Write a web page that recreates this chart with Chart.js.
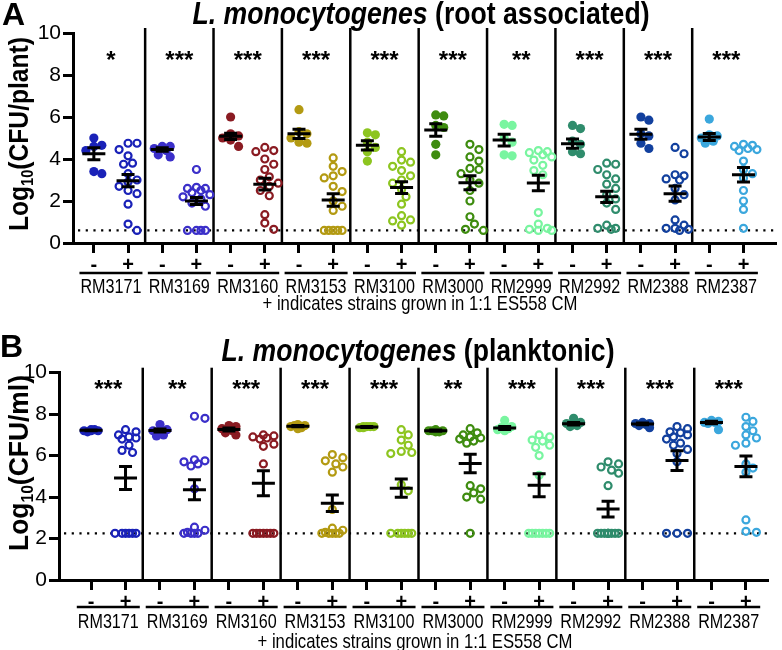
<!DOCTYPE html>
<html>
<head>
<meta charset="utf-8">
<script src="https://cdn.jsdelivr.net/npm/chart.js@4.4.0/dist/chart.umd.min.js"></script>
<style>
  body { margin: 0; background: #fff; width: 782px; height: 650px; overflow: hidden; position: relative; }
  #boxA { position: absolute; left: 0; top: 0; }
  #boxB { position: absolute; left: 0; top: 320px; }
</style>
</head>
<body>
<div id="boxA"><canvas id="chartA" width="782" height="320"></canvas></div>
<div id="boxB"><canvas id="chartB" width="782" height="330"></canvas></div>
<script>
// Cepas y colores
const cepas = ['RM3171', 'RM3169', 'RM3160', 'RM3153', 'RM3100', 'RM3000', 'RM2999', 'RM2992', 'RM2388', 'RM2387'];
const colores = ['#1a22b8', '#3b2fc9', '#8a1b22', '#b39a12', '#8dc520', '#3e8c0f', '#79f5a0', '#2f8c6c', '#12409e', '#3ba7dd'];
const yTicks = [0, 2, 4, 6, 8, 10];

// Panel A: asociado a raiz, Log10(CFU/planta)
const raizMenos = [
  [5.0, 4.6, 4.65, 4.4, 3.4, 3.3],
  [4.6, 4.6, 4.5, 4.4, 4.2, 4.1],
  [6.0, 5.2, 5.1, 5.0, 4.9, 4.6],
  [6.35, 5.3, 5.2, 5.0, 4.8, 4.75],
  [5.25, 5.15, 4.8, 4.55, 4.35, 3.9],
  [6.1, 6.05, 5.6, 5.5, 4.7, 4.2],
  [5.65, 5.6, 5.0, 4.8, 4.2, 4.15],
  [5.6, 5.45, 4.85, 4.7, 4.35, 4.25],
  [6.0, 5.85, 5.2, 5.1, 4.75, 4.5],
  [5.9, 5.15, 5.1, 5.0, 4.85, 4.75]
];
const raizMas = [
  [4.75, 4.75, 4.45, 4.15, 3.8, 3.75, 3.3, 3.0, 2.9, 2.7, 2.5, 2.35, 1.85, 0.9, 0.6],
  [3.5, 2.65, 2.6, 2.6, 2.5, 2.4, 2.3, 2.2, 2.1, 1.9, 1.75, 0.6, 0.6, 0.6, 0.6],
  [4.55, 4.4, 4.35, 4.0, 3.75, 3.5, 3.15, 3.0, 2.85, 2.7, 2.5, 2.25, 1.35, 0.95, 0.65],
  [4.05, 3.65, 3.4, 3.2, 3.1, 2.7, 2.45, 2.0, 1.75, 1.55, 0.6, 0.6, 0.6, 0.6, 0.6],
  [4.35, 3.95, 3.85, 3.65, 3.45, 3.2, 3.0, 2.85, 2.55, 2.2, 1.85, 1.3, 1.1, 1.05, 0.85],
  [4.7, 4.45, 4.1, 3.9, 3.55, 3.5, 3.3, 3.0, 2.85, 2.5, 2.0, 1.25, 0.9, 0.65, 0.6],
  [4.4, 4.35, 4.3, 4.2, 4.1, 3.95, 3.7, 3.45, 3.25, 1.45, 0.9, 0.7, 0.65, 0.6, 0.6],
  [3.8, 3.75, 3.5, 3.25, 3.05, 2.8, 2.6, 2.3, 2.1, 1.9, 1.6, 0.85, 0.7, 0.7, 0.65],
  [4.55, 4.25, 3.25, 3.2, 3.05, 3.0, 2.6, 2.3, 2.05, 1.1, 0.85, 0.7, 0.7, 0.65, 0.6],
  [4.7, 4.65, 4.6, 4.5, 4.45, 4.4, 3.9, 3.5, 3.3, 3.1, 2.5, 2.0, 1.6, 0.7]
];
const raizMedia = [4.25, 2.97, 4.45, 2.0, 5.08, 2.8, 5.2, 2.05, 4.65, 2.64, 5.38, 2.87, 4.9, 2.86, 4.73, 2.2, 5.18, 2.35, 5.05, 3.25];
const raizSem = [0.28, 0.29, 0.08, 0.17, 0.15, 0.28, 0.22, 0.3, 0.22, 0.28, 0.3, 0.33, 0.28, 0.37, 0.22, 0.27, 0.24, 0.36, 0.17, 0.35];
const raizEstrellas = ['*', '***', '***', '***', '***', '***', '**', '***', '***', '***'];

// Panel B: planctonico, Log10(CFU/ml)
const planMenos = [
  [7.25, 7.2, 7.2, 7.25, 7.15, 7.2],
  [7.5, 7.25, 7.2, 7.2, 7.0, 6.95],
  [7.45, 7.4, 7.3, 7.2, 7.1, 7.0],
  [7.5, 7.45, 7.4, 7.45, 7.35, 7.3],
  [7.4, 7.4, 7.35, 7.4, 7.35, 7.4],
  [7.25, 7.2, 7.2, 7.15, 7.2, 7.15],
  [7.7, 7.4, 7.35, 7.3, 7.25, 7.2],
  [7.8, 7.6, 7.55, 7.5, 7.45, 7.4],
  [7.6, 7.55, 7.55, 7.5, 7.45, 7.35],
  [7.7, 7.65, 7.6, 7.6, 7.55, 7.25]
];
const planMas = [
  [7.25, 7.15, 7.0, 6.9, 6.85, 6.8, 6.5, 6.25, 6.15, 2.25, 2.25, 2.25, 2.25, 2.25, 2.25],
  [7.9, 7.8, 5.8, 5.75, 5.7, 5.6, 5.5, 4.4, 2.55, 2.4, 2.3, 2.25, 2.25, 2.25, 2.25],
  [7.0, 6.95, 6.9, 6.85, 6.8, 6.55, 6.45, 5.6, 2.25, 2.25, 2.25, 2.25, 2.25, 2.25, 2.25],
  [6.05, 5.9, 5.75, 5.6, 5.45, 5.2, 3.4, 2.5, 2.4, 2.3, 2.25, 2.25, 2.25, 2.25, 2.25],
  [7.25, 7.0, 6.75, 6.5, 6.2, 6.15, 6.1, 4.6, 4.3, 2.25, 2.25, 2.25, 2.25, 2.25, 2.25],
  [7.3, 7.1, 7.0, 6.9, 6.85, 6.8, 6.7, 6.6, 4.55, 4.4, 4.2, 4.0, 3.9, 2.25],
  [7.0, 6.9, 6.75, 6.7, 6.5, 6.4, 6.0, 5.05, 2.25, 2.25, 2.25, 2.25, 2.25, 2.25, 2.25],
  [5.7, 5.6, 5.45, 5.3, 5.15, 4.55, 2.25, 2.25, 2.25, 2.25, 2.25, 2.25, 2.25, 2.25, 2.25],
  [7.4, 7.3, 7.15, 7.1, 7.0, 6.9, 6.8, 6.6, 6.5, 6.3, 6.1, 5.7, 2.25, 2.25, 2.25],
  [7.85, 7.65, 7.4, 7.2, 7.0, 6.85, 6.6, 6.5, 5.6, 5.4, 5.2, 2.9, 2.35, 2.3]
];
const planMedia = [7.22, 4.92, 7.21, 4.35, 7.26, 4.67, 7.42, 3.7, 7.38, 4.43, 7.2, 5.62, 7.33, 4.57, 7.54, 3.42, 7.53, 5.76, 7.6, 5.48];
const planSem = [0.02, 0.55, 0.07, 0.48, 0.07, 0.6, 0.03, 0.4, 0.02, 0.44, 0.03, 0.45, 0.07, 0.55, 0.06, 0.38, 0.04, 0.48, 0.06, 0.5];
const planEstrellas = ['***', '**', '***', '***', '***', '**', '***', '***', '***', '***'];

const fuente = '"Liberation Sans", Arial, Helvetica, sans-serif';

// reparte los puntos en horizontal para que no se tapen (tipo beeswarm)
function enjambre(vals, pxX, pxY, paso, kMax, minD) {
  const candidatos = [0];
  for (let k = 1; k <= kMax; k++) candidatos.push(k, -k);
  const puestos = [];
  return vals.map(v => {
    let mejor = 0, mejorD = -1;
    for (const k of candidatos) {
      const dx = k * paso;
      let d = Infinity;
      puestos.forEach(p => { d = Math.min(d, Math.hypot(dx - p[0], (v - p[1]) * pxY)); });
      if (d >= minD) { mejor = dx; mejorD = d; break; }
      if (d > mejorD) { mejor = dx; mejorD = d; }
    }
    puestos.push([mejor, v]);
    return mejor / pxX;
  });
}

// texto ajustado a un ancho dado (la fuente original es algo estrecha)
function textoAjustado(ctx, partes, x, y, ancho, align) {
  let total = 0;
  partes.forEach(p => { ctx.font = p.font; p.w = ctx.measureText(p.t).width; total += p.w; });
  const esc = ancho / total;
  ctx.save();
  ctx.translate(align === 'center' ? x - ancho / 2 : x, y);
  ctx.scale(esc, 1);
  let cx = 0;
  partes.forEach(p => {
    ctx.font = p.font;
    ctx.textAlign = 'left';
    ctx.fillText(p.t, cx, p.dy || 0);
    cx += p.w;
  });
  ctx.restore();
}

function crearPanel(cfg) {
  const columnas = [];
  for (let i = 0; i < 20; i++) columnas.push(i);

  const datasets = [];
  for (let g = 0; g < cepas.length; g++) {
    [cfg.menos[g], cfg.mas[g]].forEach((vals, s) => {
      const col = 2 * g + s;
      const offs = s
        ? enjambre(vals, cfg.pxX, cfg.pxY, cfg.pasoMas, 3, 8)
        : enjambre(vals, cfg.pxX, cfg.pxY, cfg.pasoMenos, 2, 8);
      datasets.push({
        data: vals.map((v, i) => ({ x: col + offs[i], y: v })),
        pointRadius: s ? 3.5 : 4.6,
        pointBorderWidth: s ? 2.2 : 0,
        pointBackgroundColor: s ? 'rgba(255,255,255,0)' : colores[g],
        pointBorderColor: colores[g],
        pointHoverRadius: 0,
        showLine: false
      });
    });
  }

  const decoracion = {
    id: 'decoracion',
    beforeDatasetsDraw(chart) {
      const ctx = chart.ctx, a = chart.chartArea;
      const x = chart.scales.x, y = chart.scales.y;
      ctx.save();
      // linea de limite de deteccion
      ctx.strokeStyle = '#000';
      ctx.lineWidth = 2.4;
      ctx.setLineDash([2.2, 5.5]);
      ctx.beginPath();
      ctx.moveTo(a.left + 5, y.getPixelForValue(cfg.limite));
      ctx.lineTo(a.right, y.getPixelForValue(cfg.limite));
      ctx.stroke();
      ctx.setLineDash([]);
      // separadores entre cepas
      ctx.lineWidth = 2.5;
      for (let g = 0; g < cepas.length - 1; g++) {
        const px = x.getPixelForValue(2 * g + 1.5);
        ctx.beginPath();
        ctx.moveTo(px, a.top - 5);
        ctx.lineTo(px, a.bottom);
        ctx.stroke();
      }
      ctx.restore();
    },
    afterDatasetsDraw(chart) {
      const ctx = chart.ctx;
      const x = chart.scales.x, y = chart.scales.y;
      ctx.save();
      ctx.strokeStyle = '#000';
      ctx.lineWidth = 3;
      // media +- error estandar
      cfg.media.forEach((m, c) => {
        const px = x.getPixelForValue(c);
        const ym = y.getPixelForValue(m);
        const y1 = y.getPixelForValue(m + cfg.sem[c]);
        const y2 = y.getPixelForValue(m - cfg.sem[c]);
        ctx.beginPath();
        ctx.moveTo(px - 11.5, ym); ctx.lineTo(px + 11.5, ym);
        ctx.moveTo(px - 6.5, y1); ctx.lineTo(px + 6.5, y1);
        ctx.moveTo(px - 6.5, y2); ctx.lineTo(px + 6.5, y2);
        ctx.moveTo(px, y1); ctx.lineTo(px, y2);
        ctx.stroke();
      });
      // asteriscos
      ctx.fillStyle = '#000';
      ctx.font = 'bold 24px ' + fuente;
      ctx.textAlign = 'center';
      ctx.textBaseline = 'alphabetic';
      cfg.estrellas.forEach((e, g) => {
        ctx.fillText(e, x.getPixelForValue(2 * g + 0.5), y.getPixelForValue(cfg.nivelEstrellas));
      });
      ctx.restore();
    },
    afterDraw(chart) {
      const ctx = chart.ctx;
      const x = chart.scales.x;
      ctx.save();
      ctx.fillStyle = '#000';
      ctx.strokeStyle = '#000';
      ctx.textBaseline = 'alphabetic';
      // subrayado y nombre de cada cepa
      ctx.lineWidth = 2.5;
      const fNombre = '21px ' + fuente;
      ctx.font = fNombre;
      const escNombre = 61 / ctx.measureText('RM3171').width;
      cepas.forEach((c, g) => {
        const px = x.getPixelForValue(2 * g + 0.5);
        ctx.beginPath();
        ctx.moveTo(px - 31.5, cfg.yRaya);
        ctx.lineTo(px + 31.5, cfg.yRaya);
        ctx.stroke();
        ctx.font = fNombre;
        const w = ctx.measureText(c).width * escNombre;
        textoAjustado(ctx, [{ t: c, font: fNombre }], px, cfg.yNombre, w, 'center');
      });
      // nota al pie
      textoAjustado(ctx, [{ t: '+ indicates strains grown in 1:1 ES558 CM', font: fNombre }],
        cfg.notaX, cfg.yNota, 315, 'center');
      // letra del panel
      ctx.font = 'bold 32px ' + fuente;
      ctx.textAlign = 'left';
      ctx.fillText(cfg.letra, cfg.letraX, cfg.letraY);
      // titulo
      textoAjustado(ctx, [
        { t: 'L. monocytogenes', font: 'italic bold 31px ' + fuente },
        { t: cfg.titulo, font: 'bold 31px ' + fuente }
      ], cfg.tituloX, cfg.tituloY, cfg.tituloW, 'center');
      // titulo del eje y con subindice
      ctx.save();
      ctx.translate(28, cfg.ejeYc);
      ctx.rotate(-Math.PI / 2);
      textoAjustado(ctx, [
        { t: 'Log', font: 'bold 27px ' + fuente },
        { t: '10', font: 'bold 16px ' + fuente, dy: 5 },
        { t: cfg.unidad, font: 'bold 27px ' + fuente }
      ], 0, 0, cfg.ejeYw, 'center');
      ctx.restore();
      ctx.restore();
    }
  };

  return new Chart(document.getElementById(cfg.id), {
    type: 'scatter',
    data: { datasets: datasets },
    options: {
      responsive: false,
      animation: false,
      events: [],
      layout: { padding: { top: cfg.top, right: cfg.right, left: 0, bottom: 0 } },
      plugins: { legend: { display: false }, tooltip: { enabled: false } },
      scales: {
        x: {
          type: 'linear',
          min: cfg.xMin,
          max: cfg.xMax,
          afterBuildTicks: s => { s.ticks = columnas.map(v => ({ value: v })); },
          afterFit: s => { s.height = cfg.xH; },
          ticks: {
            autoSkip: false,
            maxRotation: 0,
            padding: 0,
            color: '#000',
            font: { family: fuente, size: 20, weight: 'bold' },
            callback: v => (Math.round(v) % 2 ? '+' : '-')
          },
          grid: { drawOnChartArea: false, drawTicks: true, tickLength: 10, tickWidth: 3, color: '#000' },
          border: { display: true, color: '#000', width: 3 }
        },
        y: {
          min: 0,
          max: 10,
          afterBuildTicks: s => { s.ticks = yTicks.map(v => ({ value: v })); },
          afterFit: s => { s.width = cfg.yW; },
          ticks: { padding: 2, color: '#000', font: { family: fuente, size: 21 } },
          grid: { drawOnChartArea: false, drawTicks: true, tickLength: 10, tickWidth: 3, color: '#000' },
          border: { display: true, color: '#000', width: 3 }
        }
      }
    },
    plugins: [decoracion]
  });
}

document.addEventListener('DOMContentLoaded', () => {
  crearPanel({
    id: 'chartA', menos: raizMenos, mas: raizMas, media: raizMedia, sem: raizSem,
    estrellas: raizEstrellas, limite: 0.6, nivelEstrellas: 8.35,
    xMin: -0.61, xMax: 19.96, top: 33, right: 2, yW: 73, xH: 77, pxX: 34.37, pxY: 21,
    pasoMenos: 4, pasoMas: 4.5,
    yRaya: 273, yNombre: 293, yNota: 310, notaX: 420,
    letra: 'A', letraX: 2, letraY: 25,
    titulo: ' (root associated)', tituloX: 421, tituloY: 24, tituloW: 457,
    unidad: '(CFU/plant)', ejeYc: 134, ejeYw: 194
  });
  crearPanel({
    id: 'chartB', menos: planMenos, mas: planMas, media: planMedia, sem: planSem,
    estrellas: planEstrellas, limite: 2.25, nivelEstrellas: 8.84,
    xMin: -0.93, xMax: 19.64, top: 52.7, right: 14, yW: 59, xH: 70, pxX: 34.47, pxY: 20.73,
    pasoMenos: 3.5, pasoMas: 3.5,
    yRaya: 287, yNombre: 308, yNota: 328, notaX: 415,
    letra: 'B', letraX: 0, letraY: 37,
    titulo: ' (planktonic)', tituloX: 418, tituloY: 41, tituloW: 393,
    unidad: '(CFU/ml)', ejeYc: 143, ejeYw: 176
  });
});
</script>
</body>
</html>
